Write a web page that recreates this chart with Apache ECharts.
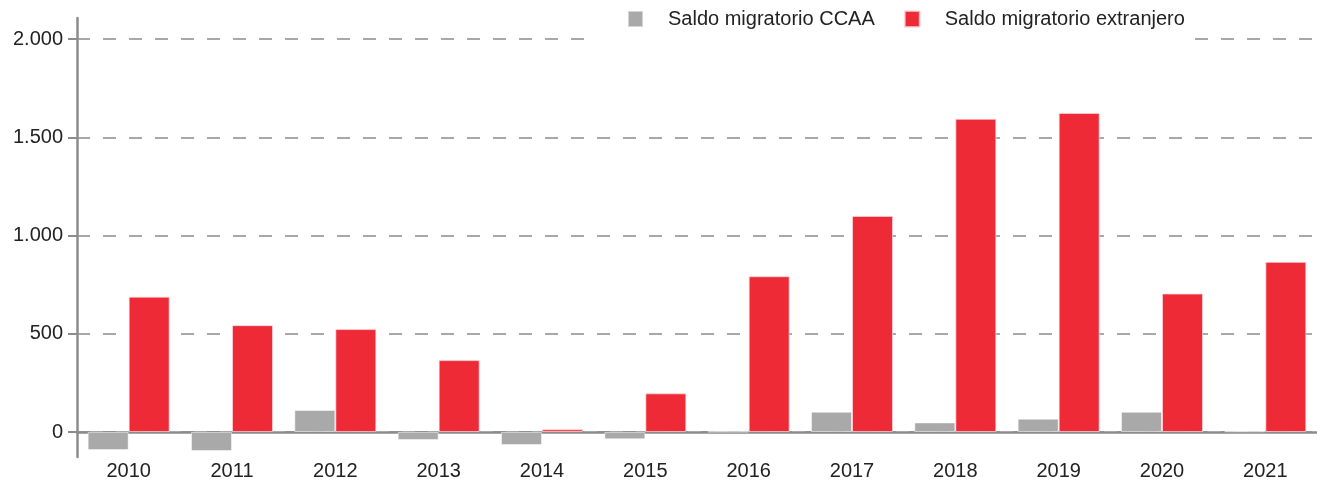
<!DOCTYPE html>
<html>
<head>
<meta charset="utf-8">
<script src="https://cdn.jsdelivr.net/npm/echarts@6/dist/echarts.min.js"></script>
<style>
  html, body { margin: 0; padding: 0; background: #fff; }
  #chart { width: 1317px; height: 483px; }
</style>
</head>
<body>
<div id="chart"></div>
<script>
const years = ['2010', '2011', '2012', '2013', '2014', '2015', '2016', '2017', '2018', '2019', '2020', '2021'];
const saldoCCAA = [-92, -97, 112, -41, -66, -37, 2, 103, 49, 68, 103, 4];
const saldoExtranjero = [689, 544, 524, 366, 14, 197, 793, 1100, 1594, 1624, 705, 866];
const yTicks = [0, 500, 1000, 1500, 2000];
const yMin = -127;
const yMax = 2107;

const font = 'Liberation Sans, Arial, sans-serif';
const axisGray = '#8c8c8c';

const chart = echarts.init(document.getElementById('chart'));

chart.setOption({
  animation: false,
  textStyle: { fontFamily: font },
  grid: [
    { left: 77, right: 0, top: 18, bottom: 26, outerBoundsMode: 'none' },
    // narrow strip left of the axis: its split lines act as the tick marks
    { left: 68, width: 9, top: 18, bottom: 26, outerBoundsMode: 'none' }
  ],
  legend: {
    left: 597,
    top: 0,
    padding: [9, 4, 18, 30],
    backgroundColor: '#fff',
    itemWidth: 15,
    itemHeight: 16,
    itemGap: 29,
    icon: 'rect',
    z: 10,
    textStyle: { fontSize: 20, color: '#222', fontFamily: font, padding: [0, 0, 0, 20] },
    data: ['Saldo migratorio CCAA', 'Saldo migratorio extranjero']
  },
  xAxis: [
    {
      type: 'category',
      data: years,
      axisLine: { onZero: true, lineStyle: { color: axisGray, width: 2.5 } },
      axisTick: { show: false },
      axisLabel: { fontSize: 20, color: '#222', margin: 4, fontFamily: font }
    },
    { type: 'value', gridIndex: 1, show: false, min: 0, max: 1 }
  ],
  yAxis: [
    {
      type: 'value',
      min: yMin,
      max: yMax,
      axisLine: { show: true, lineStyle: { color: axisGray, width: 2.5 } },
      axisTick: {
        show: true,
        length: 9,
        customValues: yTicks,
        lineStyle: { color: axisGray, width: 2 }
      },
      axisLabel: {
        fontSize: 20,
        color: '#222',
        margin: 14,
        fontFamily: font,
        customValues: yTicks,
        formatter: v => v.toLocaleString('de-DE')
      },
      splitLine: {
        show: true,
        lineStyle: { color: '#8c8c8c', width: 1.5, type: [13, 13] }
      }
    },
    {
      type: 'value',
      gridIndex: 1,
      min: yMin,
      max: yMax,
      axisLine: { show: false },
      axisTick: { show: true, length: 0, customValues: yTicks },
      axisLabel: { show: false, customValues: yTicks },
      splitLine: { show: true, lineStyle: { color: axisGray, width: 2, type: 'solid' } }
    }
  ],
  series: [
    {
      name: 'Saldo migratorio CCAA',
      type: 'bar',
      data: saldoCCAA,
      barWidth: 41,
      barGap: 0,
      itemStyle: { color: '#a9a9a9', borderColor: 'rgba(255,255,255,0.5)', borderWidth: 1 }
    },
    {
      name: 'Saldo migratorio extranjero',
      type: 'bar',
      data: saldoExtranjero,
      barWidth: 41,
      barGap: 0,
      itemStyle: { color: '#ee2a36', borderColor: 'rgba(255,220,225,0.7)', borderWidth: 1 }
    }
  ]
});
</script>
</body>
</html>
